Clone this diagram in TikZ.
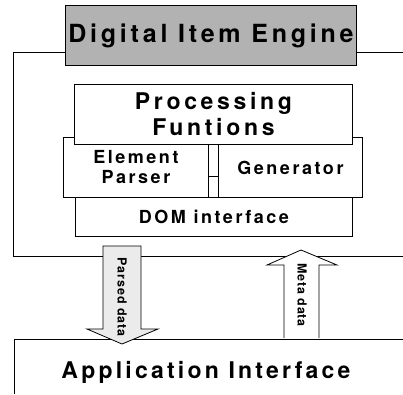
\documentclass[tikz,border=0pt]{standalone}
\usepackage{fontspec}
\setmainfont{TeX Gyre Heros}
\begin{document}
\begin{tikzpicture}[x=1pt,y=-1pt,
  line width=0.9pt,
  box/.style={draw=black, fill=white, inner sep=0pt, anchor=north west, align=center},
  bigtxt/.style={font={\bfseries\fontsize{23}{26}\selectfont\addfontfeature{LetterSpace=16}}},
  midtxt/.style={font={\bfseries\fontsize{18}{20}\selectfont\addfontfeature{LetterSpace=14}}},
  smalltxt/.style={font={\bfseries\fontsize{12.5}{14}\selectfont\addfontfeature{LetterSpace=7}}},
  blockarrow/.style={draw=black, line width=0.8pt, line join=miter}
]
\useasboundingbox (0,0) rectangle (403,394);
% engine frame
\coordinate (fl) at (13,52);
\coordinate (fr) at (403,52);
\coordinate (fbl) at (13,256);
\coordinate (fbr) at (403,256);
\draw (fr) -- (fl) -- (fbl) -- (fbr);
% engine title
\node[box, fill=black!30, minimum width=291pt, minimum height=60pt,
  font={\bfseries\fontsize{25}{28}\selectfont\addfontfeature{LetterSpace=15}}] (die) at (65,5) {Digital Item Engine};
% element parser and generator
\node[box, minimum width=145pt, minimum height=60pt, midtxt] (ep) at (63,137) {Element\\Parser};
\node[box, minimum width=144pt, minimum height=60pt, midtxt] (gen) at (218,137) {Generator};
\draw (ep.east |- 0,176) -- (gen.west |- 0,176);
% processing (on top)
\node[box, minimum width=278pt, minimum height=60pt, bigtxt] (proc) at (74,84) {Processing\\Funtions};
% DOM
\node[box, minimum width=277pt, minimum height=39pt, midtxt] (dom) at (75,197) {DOM interface};
% application interface
\coordinate (al) at (14,394);
\coordinate (atl) at (14,339);
\coordinate (atr) at (403,339);
\draw (al) -- (atl) -- (atr);
\node[font={\bfseries\fontsize{23}{28}\selectfont\addfontfeature{LetterSpace=14}}] (app) at (206,372) {Application Interface};
% parsed data arrow (down)
\draw[blockarrow, fill=black!8] (103,246) -- (141,246) -- (141,329) -- (158,329) -- (122,344) -- (87,329) -- (103,329) -- cycle;
\node[smalltxt, rotate=-90] (pd) at (122,297) {Parsed data};
% meta data arrow (up)
\draw[blockarrow, fill=white] (284,338) -- (284,265) -- (267,265) -- (301,250) -- (337,265) -- (319,265) -- (319,338);
\node[smalltxt, rotate=-90] (md) at (302,295) {Meta data};
\end{tikzpicture}
\end{document}
